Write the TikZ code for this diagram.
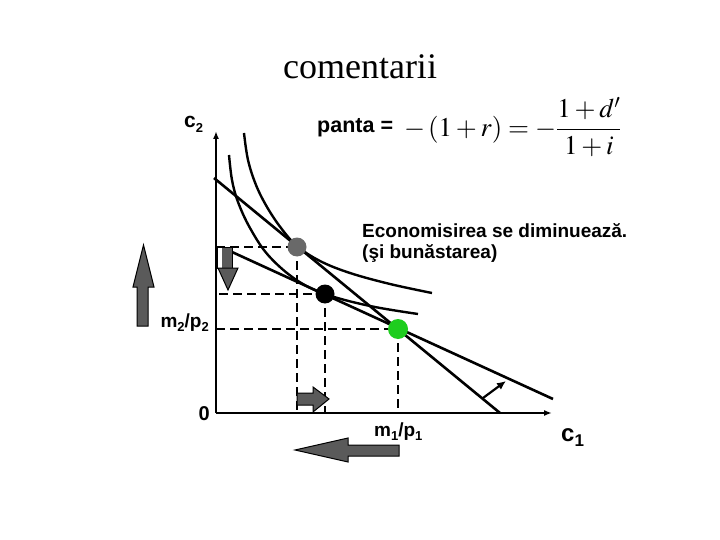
\documentclass[tikz,border=0pt]{standalone}
\usepackage{mathptmx}
\usepackage{fontspec}
\setmainfont{Liberation Serif}
\setsansfont{Liberation Sans}
\usetikzlibrary{arrows.meta}
\definecolor{dotgreen}{RGB}{30,205,30}
\definecolor{dotgray}{RGB}{105,105,105}
\definecolor{arrgray}{RGB}{90,90,90}
\newcommand\lsub[1]{\raisebox{-0.45ex}{\fontsize{13}{13}\selectfont #1}}
\begin{document}
\begin{tikzpicture}[x=1pt,y=-1pt,
  lbl/.style={font=\sffamily\bfseries\fontsize{19}{21}\selectfont, inner sep=0pt},
  budget/.style={line width=2.6pt},
  icurve/.style={line width=2.4pt},
  guide/.style={line width=2.2pt, dash pattern=on 9pt off 5pt},
  blockarrow/.style={fill=arrgray, draw=black, line width=1pt},
  dotnode/.style={circle, inner sep=0pt, minimum size=19pt}
]
\useasboundingbox (0,0) rectangle (720,540);
% axes
\coordinate (O) at (216,413);
\coordinate (ytop) at (216,131);
\coordinate (xend) at (552,413);
% points
\coordinate (G) at (297,247);
\coordinate (B) at (325,294);
\coordinate (Gr) at (398,329);
% dashed guides
\draw[guide] (216,247) -- (G);
\draw[guide] (G) -- (297,413);
\draw[guide] (219,294) -- (B);
\draw[guide] (B) -- (325,413);
\draw[guide] (216,329) -- (Gr);
\draw[guide] (Gr) -- (398,413);
% axes
\draw[line width=2pt, -{Latex[length=8pt,width=6pt]}] (O) -- (ytop);
\draw[line width=2pt, -{Latex[length=8pt,width=6pt]}] (O) -- (xend);
% budget lines
\coordinate (s1) at (214,178);
\coordinate (s2) at (500,413);
\coordinate (f1) at (232,252);
\coordinate (f2) at (553,399);
\draw[budget] (s1) -- (s2);
\draw[budget] (f1) -- (f2);
% indifference curves
\draw[icurve] plot[smooth, tension=0.6] coordinates {(244,133) (248,160) (256,185) (267,207) (281,228) (297,246) (320,261) (350,273) (390,284) (432,293)};
\draw[icurve] plot[smooth, tension=0.6] coordinates {(229,155) (232,180) (238,202) (250,228) (268,255) (295,279) (325,294) (370,306) (418,314)};
% small rotation arrow
\coordinate (ra) at (483,398);
\coordinate (rb) at (506,381);
\draw[line width=2.2pt, -{Latex[length=9pt,width=8pt]}] (ra) -- (rb);
% dots
\node[dotnode, fill=dotgray] (gdot) at (G) {};
\node[dotnode, fill=black] (bdot) at (B) {};
\node[dotnode, fill=dotgreen, minimum size=20pt] (grdot) at (Gr) {};
% block arrows
\draw[blockarrow] (137,326) -- (148,326) -- (148,287) -- (154,287) -- (143.5,245) -- (133,287) -- (137,287) -- cycle;
\draw[fill=white, draw=black, line width=1pt] (217,247) rectangle (232,268);
\fill[arrgray] (222,247.5) rectangle (231.5,268);
\draw[blockarrow] (218,268) -- (238,268) -- (228,290) -- cycle;
\draw[blockarrow] (297,393) -- (313,393) -- (313,387) -- (329,399) -- (313,412) -- (313,405) -- (297,405) -- cycle;
\draw[blockarrow] (399,445) -- (348,445) -- (348,438) -- (295,450) -- (348,462) -- (348,456) -- (399,456) -- cycle;
% texts
\node[font=\fontsize{36}{40}\selectfont, inner sep=0pt, anchor=base] (title) at (360,79) {comentarii};
\node[lbl, font=\sffamily\bfseries\fontsize{21}{23}\selectfont, anchor=base west] (c2) at (184,128) {c\lsub{2}};
\node[lbl, font=\sffamily\bfseries\fontsize{21.5}{23}\selectfont, anchor=base west] (panta) at (317,133) {panta =};
\node[inner sep=0pt, anchor=west, font=\fontsize{27}{29}\selectfont] (formula) at (404,127) {$\displaystyle -\,(1+r)=-\frac{1+d'}{1+i}$};
\node[lbl, anchor=north west, align=left] (econ) at (362,223) {Economisirea se diminuează.\\(şi bunăstarea)};
\node[lbl, anchor=base east] (m2) at (209,327) {m\lsub{2}/p\lsub{2}};
\node[lbl, font=\sffamily\bfseries\fontsize{20}{22}\selectfont, anchor=base east] (zero) at (210,420) {0};
\node[lbl, anchor=base west] (m1) at (374,436) {m\lsub{1}/p\lsub{1}};
\node[lbl, font=\sffamily\bfseries\fontsize{24}{26}\selectfont, anchor=base west] (c1) at (561,441) {c\raisebox{-0.45ex}{\fontsize{17}{17}\selectfont 1}};
\end{tikzpicture}
\end{document}
